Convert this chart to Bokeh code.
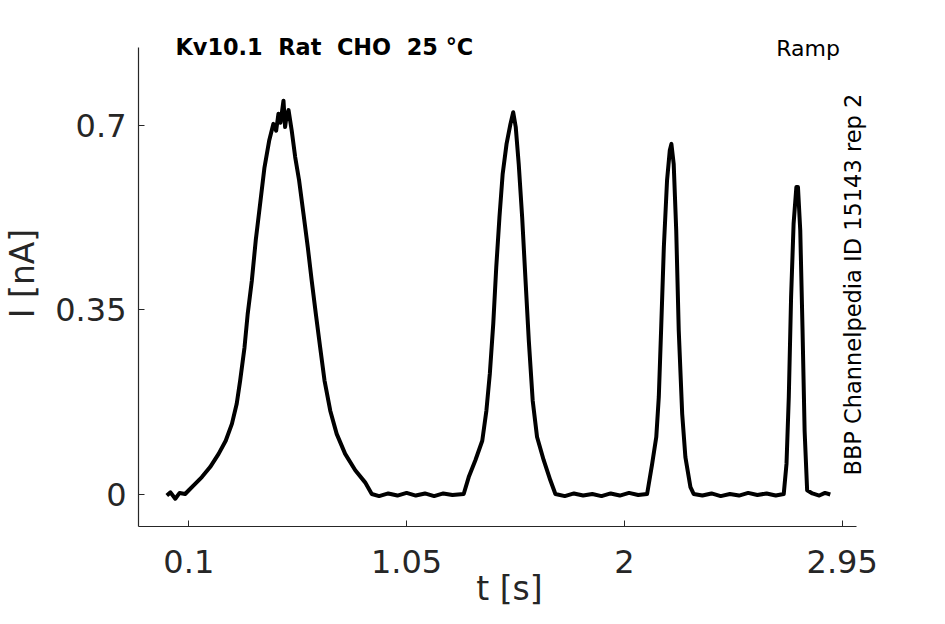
from bokeh.plotting import figure
from bokeh.models import FixedTicker, Label, Range1d
from bokeh.embed import file_html
from bokeh.resources import INLINE
import math

# ---- data ----
t_s = [0.004, 0.02, 0.041, 0.06, 0.084, 0.10, 0.120, 0.157, 0.193, 0.230, 0.261, 0.288,
       0.309, 0.324, 0.343, 0.357, 0.375, 0.392, 0.411, 0.430, 0.451, 0.469, 0.481, 0.491,
       0.500, 0.507, 0.513, 0.520, 0.527, 0.535, 0.549, 0.564, 0.581, 0.600, 0.619, 0.636,
       0.654, 0.673, 0.692, 0.717, 0.745, 0.782, 0.826, 0.869, 0.898,
       0.93, 0.97, 1.01, 1.05, 1.09, 1.13, 1.17, 1.21, 1.25, 1.299,
       1.321, 1.350, 1.380, 1.398, 1.413, 1.428, 1.441, 1.455, 1.469, 1.486, 1.503, 1.515,
       1.526, 1.539, 1.554, 1.568, 1.583, 1.600, 1.619, 1.648, 1.677, 1.699,
       1.74, 1.78, 1.82, 1.86, 1.90, 1.94, 1.98, 2.02, 2.06, 2.099,
       2.121, 2.139, 2.150, 2.160, 2.172, 2.186, 2.198, 2.205, 2.215, 2.226, 2.237, 2.252,
       2.266, 2.288, 2.302,
       2.34, 2.38, 2.42, 2.46, 2.50, 2.54, 2.58, 2.62, 2.66, 2.695,
       2.707, 2.717, 2.727, 2.738, 2.750, 2.757, 2.767, 2.777, 2.786, 2.797,
       2.82, 2.85, 2.875, 2.898]
i_nA = [-0.002, 0.004, -0.008, 0.003, 0.001, 0.008, 0.017, 0.033, 0.052, 0.077, 0.102, 0.134,
        0.172, 0.216, 0.279, 0.343, 0.406, 0.482, 0.551, 0.620, 0.672, 0.703, 0.690, 0.722,
        0.705, 0.728, 0.747, 0.697, 0.720, 0.729, 0.690, 0.640, 0.596, 0.533, 0.469, 0.406,
        0.343, 0.279, 0.216, 0.159, 0.115, 0.077, 0.046, 0.023, 0.001,
        -0.003, 0.002, -0.002, 0.003, -0.002, 0.002, -0.003, 0.002, -0.001, 0.001,
        0.033, 0.065, 0.102, 0.159, 0.229, 0.324, 0.431, 0.526, 0.608, 0.665, 0.703, 0.725,
        0.697, 0.627, 0.526, 0.412, 0.292, 0.178, 0.109, 0.065, 0.027, 0.001,
        -0.003, 0.002, -0.002, 0.001, -0.003, 0.002, -0.002, 0.003, -0.001, 0.001,
        0.058, 0.109, 0.185, 0.311, 0.469, 0.596, 0.653, 0.665, 0.627, 0.501, 0.311, 0.153,
        0.071, 0.014, 0.001,
        -0.002, 0.002, -0.003, 0.001, -0.002, 0.003, -0.001, 0.002, -0.002, 0.001,
        0.058, 0.185, 0.374, 0.514, 0.583, 0.583, 0.501, 0.311, 0.121, 0.008,
        0.002, -0.002, 0.003, 0.000]

x_ticks = [0.1, 1.05, 2, 2.95]
x_tick_labels = ["0.1", "1.05", "2", "2.95"]
y_ticks = [0, 0.35, 0.7]
y_tick_labels = ["0", "0.35", "0.7"]

NB = " \u00a0"  # double space that SVG will not collapse
title_text = NB.join(["Kv10.1", "Rat", "CHO", "25 °C"])
protocol_text = "Ramp"
source_text = "BBP Channelpedia ID 15143 rep 2"

AX = "#262626"
FONT = "DejaVu Sans"

X0, X_AXIS_END, X1 = -0.1194, 3.0124, 3.117
Y0, Y_AXIS_END, Y1 = -0.0607, 0.848, 0.899

p = figure(width=929, height=616, output_backend="svg", toolbar_location=None,
           x_range=Range1d(X0, X1), y_range=Range1d(Y0, Y1),
           min_border_left=138, min_border_right=49, min_border_top=20, min_border_bottom=90)
p.outline_line_color = None
p.grid.visible = False
p.background_fill_color = "white"
p.border_fill_color = "white"

p.line(t_s, i_nA, line_color="black", line_width=4, line_join="round")

for ax in (p.xaxis[0], p.yaxis[0]):
    ax.axis_line_color = AX
    ax.axis_line_width = 1.2
    ax.major_tick_line_color = AX
    ax.major_tick_in = 6
    ax.major_tick_out = 0
    ax.minor_tick_line_color = None
    ax.major_label_text_color = AX
    ax.major_label_text_font = FONT
    ax.major_label_text_font_size = "32px"
    ax.axis_label_text_color = AX
    ax.axis_label_text_font = FONT
    ax.axis_label_text_font_size = "33px"
    ax.axis_label_text_font_style = "normal"

p.xaxis.bounds = (X0, X_AXIS_END)
p.yaxis.bounds = (Y0, Y_AXIS_END)
p.xaxis.ticker = FixedTicker(ticks=x_ticks)
p.xaxis.major_label_overrides = dict(zip(x_ticks, x_tick_labels))
p.yaxis.ticker = FixedTicker(ticks=y_ticks)
p.yaxis.major_label_overrides = dict(zip(y_ticks, y_tick_labels))
p.xaxis.axis_label = "t [s]"
p.yaxis.axis_label = "I [nA]"
p.xaxis.major_label_standoff = 23
p.yaxis.major_label_standoff = 12
p.xaxis.axis_label_standoff = -7
p.yaxis.axis_label_standoff = 10

p.add_layout(Label(x=0.042, y=0.848, text=title_text, text_font=FONT, text_font_size="22.4px",
                   text_font_style="bold", text_color="black", text_align="left",
                   text_baseline="alphabetic"))
p.add_layout(Label(x=2.940, y=0.846, text=protocol_text, text_font=FONT, text_font_size="22px",
                   text_color="black", text_align="right", text_baseline="alphabetic"))
p.add_layout(Label(x=2.995, y=0.036, text=source_text, text_font=FONT, text_font_size="22.5px",
                   text_color="black", text_align="left", text_baseline="alphabetic",
                   angle=math.pi / 2))

open("out.html", "w").write(file_html(p, INLINE))
